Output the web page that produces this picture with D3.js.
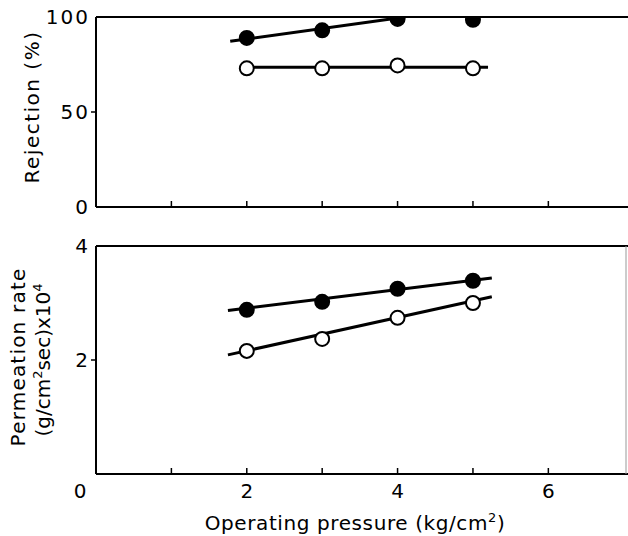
<!DOCTYPE html>
<html>
<head>
<meta charset="utf-8">
<script src="https://cdn.jsdelivr.net/npm/d3@7"></script>
<style>
  body { margin: 0; background: #fff; }
  text { font-family: "DejaVu Sans", sans-serif; fill: #000; }
</style>
</head>
<body>
<div id="chart"></div>
<script>
// pressure values (kg/cm2)
let pressure = [2, 3, 4, 5]
// rejection (%)
let rej_filled = [89, 93, 99, 98.5]
let rej_open = [73, 73, 74.5, 73]
// permeation rate x 10^4
let perm_filled = [2.88, 3.02, 3.25, 3.39]
let perm_open = [2.16, 2.37, 2.74, 3.0]

// fitted lines (x ends, y ends)
let rej_filled_fit_x = [1.78, 4.1]
let rej_filled_fit_y = [87.2, 100]
let rej_open_fit_x = [1.9, 5.2]
let rej_open_fit_y = [73.5, 73.5]
let perm_filled_fit_x = [1.75, 5.25]
let perm_filled_fit_y = [2.87, 3.44]
let perm_open_fit_x = [1.75, 5.25]
let perm_open_fit_y = [2.09, 3.11]

let x_ticks = [1, 2, 3, 4, 5, 6]
let x_labels = [0, 2, 4, 6]

const width = 628, height = 536
const left = 96, right = 626
const fs = "20px", sup = "13px"

let svg = d3.select("#chart")
    .append("svg")
    .attr("width", width)
    .attr("height", height)

let x = d3.scaleLinear().domain([0, 7.03]).range([left, right])

function drawPanel(cfg) {
    let y = d3.scaleLinear().domain(cfg.domain).range([cfg.bottom, cfg.top])
    let g = svg.append("g")

    let clipId = "clip" + cfg.name
    g.append("clipPath").attr("id", clipId)
        .append("rect")
        .attr("x", left).attr("y", cfg.top)
        .attr("width", width - left).attr("height", cfg.bottom - cfg.top)

    // frame
    g.append("line").attr("x1", left).attr("x2", width).attr("y1", cfg.top).attr("y2", cfg.top)
        .attr("stroke", "#000").attr("stroke-width", 2)
    g.append("line").attr("x1", left).attr("x2", width).attr("y1", cfg.bottom).attr("y2", cfg.bottom)
        .attr("stroke", "#000").attr("stroke-width", 2)
    g.append("line").attr("x1", left).attr("x2", left).attr("y1", cfg.top).attr("y2", cfg.bottom)
        .attr("stroke", "#000").attr("stroke-width", 2)
    if (cfg.rightEdge) {
        g.append("line").attr("x1", right).attr("x2", right).attr("y1", cfg.top).attr("y2", cfg.bottom)
            .attr("stroke", "#999").attr("stroke-width", 1)
    }

    // x ticks pointing inward
    g.selectAll(null)
        .data(x_ticks)
        .enter()
        .append("line")
        .attr("x1", d => x(d)).attr("x2", d => x(d))
        .attr("y1", cfg.bottom).attr("y2", cfg.bottom - 6)
        .attr("stroke", "#000").attr("stroke-width", 1.5)

    // y ticks and labels
    g.selectAll(null)
        .data(cfg.yTicks)
        .enter()
        .append("line")
        .attr("x1", left - 5).attr("x2", left)
        .attr("y1", d => y(d)).attr("y2", d => y(d))
        .attr("stroke", "#000").attr("stroke-width", 1.5)
    g.selectAll(null)
        .data(cfg.yLabels)
        .enter()
        .append("text")
        .attr("x", left - 6)
        .attr("y", d => y(d))
        .attr("dy", "0.36em")
        .style("text-anchor", "end")
        .style("font-size", fs)
        .style("letter-spacing", "2px")
        .text(d => d)

    let plot = g.append("g").attr("clip-path", `url(#${clipId})`)
    let line = d3.line().x(d => x(d[0])).y(d => y(d[1]))

    cfg.series.forEach(function(s) {
        let pts = d3.zip(s.fx, s.fy)
        plot.append("path")
            .attr("d", line(pts))
            .attr("fill", "none")
            .attr("stroke", "#000")
            .attr("stroke-width", 3)
        plot.selectAll(null)
            .data(d3.zip(pressure, s.values))
            .enter()
            .append("circle")
            .attr("cx", d => x(d[0]))
            .attr("cy", d => y(d[1]))
            .attr("r", 7)
            .attr("fill", s.filled ? "#000" : "#fff")
            .attr("stroke", "#000")
            .attr("stroke-width", 2)
    })
    return y
}

drawPanel({
    name: "top", top: 17, bottom: 207, domain: [0, 100],
    yTicks: [50], yLabels: [0, 50, 100],
    series: [
        {values: rej_filled, fx: rej_filled_fit_x, fy: rej_filled_fit_y, filled: true},
        {values: rej_open, fx: rej_open_fit_x, fy: rej_open_fit_y, filled: false}
    ]
})

drawPanel({
    name: "bottom", top: 246, bottom: 474, domain: [0, 4], rightEdge: true,
    yTicks: [2], yLabels: [2, 4],
    series: [
        {values: perm_filled, fx: perm_filled_fit_x, fy: perm_filled_fit_y, filled: true},
        {values: perm_open, fx: perm_open_fit_x, fy: perm_open_fit_y, filled: false}
    ]
})

// x tick labels under the bottom panel
svg.selectAll(null)
    .data(x_labels)
    .enter()
    .append("text")
    .attr("x", d => d === 0 ? x(d) - 16 : x(d))
    .attr("y", 498)
    .style("text-anchor", "middle")
    .style("font-size", fs)
    .text(d => d)

// axis titles
svg.append("text")
    .attr("transform", "translate(39, 107) rotate(-90)")
    .style("text-anchor", "middle")
    .style("font-size", fs)
    .style("letter-spacing", "1.5px")
    .text("Rejection (%)")

svg.append("text")
    .attr("transform", "translate(25, 357) rotate(-90)")
    .style("text-anchor", "middle")
    .style("font-size", fs)
    .style("letter-spacing", "1.2px")
    .text("Permeation rate")

let sub = svg.append("text")
    .attr("transform", "translate(50, 360) rotate(-90)")
    .style("text-anchor", "middle")
    .style("font-size", fs)
sub.append("tspan").text("(g/cm")
sub.append("tspan").attr("dy", -8).style("font-size", sup).text("2")
sub.append("tspan").attr("dy", 8).text("sec)x10")
sub.append("tspan").attr("dy", -8).style("font-size", sup).text("4")

let xt = svg.append("text")
    .attr("x", 355)
    .attr("y", 530)
    .style("text-anchor", "middle")
    .style("font-size", fs)
    .style("letter-spacing", "0.6px")
xt.append("tspan").text("Operating pressure (kg/cm")
xt.append("tspan").attr("dy", -8).style("font-size", sup).text("2")
xt.append("tspan").attr("dy", 8).text(")")
</script>
</body>
</html>
